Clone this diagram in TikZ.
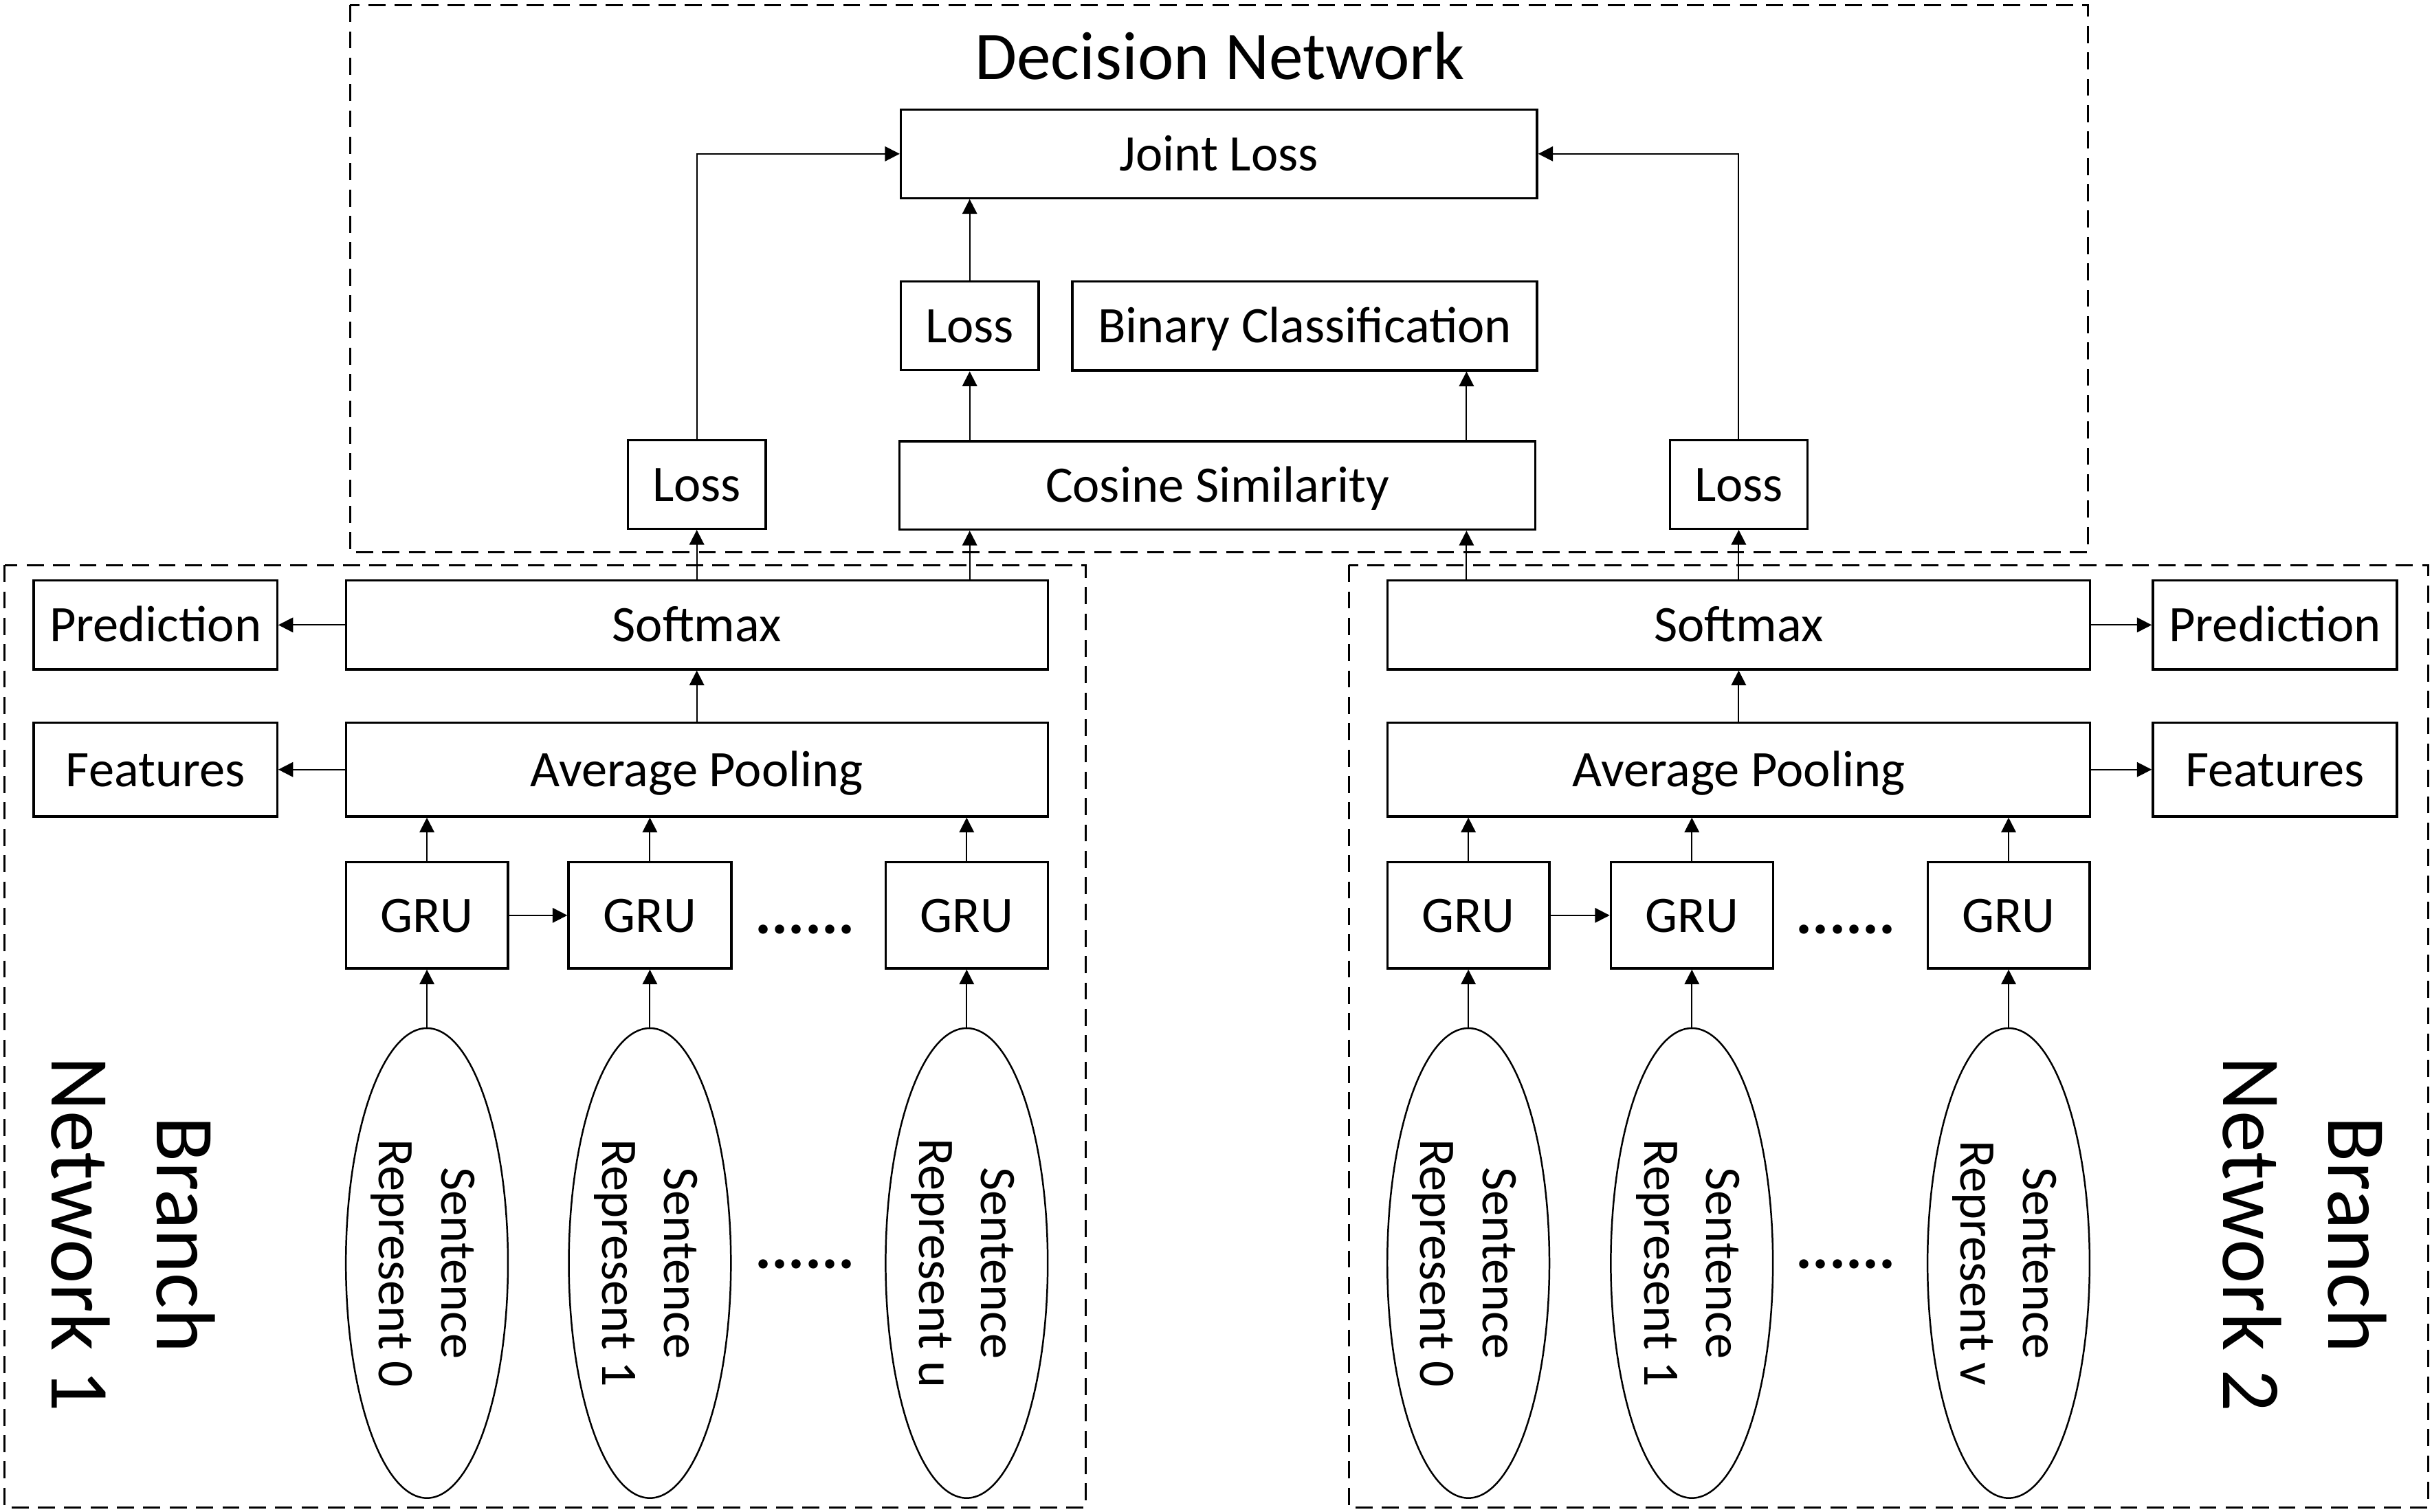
\documentclass[tikz,border=0pt]{standalone}
\usepackage{fontspec}
\setmainfont{Carlito}
\usetikzlibrary{arrows.meta,shapes.geometric,calc}
\begin{document}
\begin{tikzpicture}[x=1pt,y=-1pt,
  box/.style={draw,line width=1.45pt,inner sep=0pt,font=\fontsize{33}{40}\selectfont,text height=21.5pt,text depth=0pt},
  arr/.style={line width=0.9pt,-{Triangle[length=9.5pt,width=9.5pt]}},
  dbox/.style={draw,line width=1.35pt,dash pattern=on 11pt off 6pt},
  ell/.style={draw,ellipse,line width=1.1pt,inner sep=0pt,minimum width=104.5pt,minimum height=303pt},
  etext/.style={rotate=-90,align=center,font=\fontsize{33}{40}\selectfont,text depth=0pt,inner sep=0pt},
  blabel/.style={rotate=-90,align=center,font=\fontsize{54}{68}\selectfont,text depth=0pt,inner sep=0pt},
  dotsty/.style={font=\fontsize{40}{42}\selectfont\bfseries,anchor=base,inner sep=0pt}
]
\useasboundingbox (0,0) rectangle (1568,975);
\fill[white] (0,0) rectangle (1568,975);

% frames
\draw[dbox] (225.6,3.2) rectangle (1346,356.3);
\draw[dbox] (3,364.4) rectangle (700,972);
\draw[dbox] (869.6,364.4) rectangle (1565.5,972);

% decision network
\node[font=\fontsize{44}{50}\selectfont,anchor=base,inner sep=0pt] (title) at (786.4,51) {Decision Network};
\node[box,minimum width=410.2pt,minimum height=57pt] (joint) at (785.9,99.2) {Joint Loss};
\node[box,minimum width=88.8pt,minimum height=57.3pt] (lossC) at (625.2,210.1) {Loss};
\node[box,minimum width=299.6pt,minimum height=57.5pt] (bin) at (841.2,210.1) {Binary Classification};
\node[box,minimum width=410pt,minimum height=57pt] (cos) at (785,313) {Cosine Similarity};
\node[box,minimum width=89pt,minimum height=57pt] (lossL) at (449.25,312.5) {Loss};
\node[box,minimum width=88.6pt,minimum height=57pt] (lossR) at (1121,312.5) {Loss};
\coordinate (xr) at (945.5,0);

% branch 1
\node[box,minimum width=157pt,minimum height=57.3pt] (predL) at (100.2,403) {Prediction};
\node[box,minimum width=452.5pt,minimum height=57.3pt] (smL) at (449.25,403) {Softmax};
\node[box,minimum width=157pt,minimum height=60.5pt] (featL) at (100.2,496.25) {Features};
\node[box,minimum width=452.5pt,minimum height=60.5pt] (avgL) at (449.25,496.25) {Average Pooling};
\node[box,minimum width=104.5pt,minimum height=68.5pt] (gL1) at (275.25,590.25) {GRU};
\node[box,minimum width=105pt,minimum height=68.5pt] (gL2) at (419,590.25) {GRU};
\node[box,minimum width=104.5pt,minimum height=68.5pt] (gL3) at (623.25,590.25) {GRU};
\node[dotsty] (dL1) at (519,602) {......};
\node[ell] (eL1) at (275.25,814.5) {};
\node[ell] (eL2) at (419,814.5) {};
\node[ell] (eL3) at (623.25,814.5) {};
\node[etext] (tL1) at (eL1) {Sentence\\Represent 0};
\node[etext] (tL2) at (eL2) {Sentence\\Represent 1};
\node[etext] (tL3) at (eL3) {Sentence\\Represent u};
\node[dotsty] (dL2) at (519,818) {......};
\node[blabel] (bL) at (86,796) {Branch\\Network 1};

% branch 2
\node[box,minimum width=453pt,minimum height=57.3pt] (smR) at (1121,403) {Softmax};
\node[box,minimum width=157.4pt,minimum height=57.3pt] (predR) at (1466.7,403) {Prediction};
\node[box,minimum width=453pt,minimum height=60.5pt] (avgR) at (1121,496.25) {Average Pooling};
\node[box,minimum width=157.4pt,minimum height=60.5pt] (featR) at (1466.7,496.25) {Features};
\node[box,minimum width=104.5pt,minimum height=68.5pt] (gR1) at (946.7,590.25) {GRU};
\node[box,minimum width=104.5pt,minimum height=68.5pt] (gR2) at (1090.8,590.25) {GRU};
\node[box,minimum width=104.5pt,minimum height=68.5pt] (gR3) at (1295,590.25) {GRU};
\node[dotsty] (dR1) at (1190,602) {......};
\node[ell] (eR1) at (946.7,814.5) {};
\node[ell] (eR2) at (1090.8,814.5) {};
\node[ell] (eR3) at (1295,814.5) {};
\node[etext] (tR1) at (eR1) {Sentence\\Represent 0};
\node[etext] (tR2) at (eR2) {Sentence\\Represent 1};
\node[etext] (tR3) at (eR3) {Sentence\\Represent v};
\node[dotsty] (dR2) at (1190,818) {......};
\node[blabel] (bR) at (1486,796) {Branch\\Network 2};

% decision connectors
\draw[arr] (lossL) |- (joint);
\draw[arr] (lossR) |- (joint);
\draw[arr] (lossC.north) -- (lossC.north |- joint.south);
\draw[arr] (cos.north -| lossC) -- (lossC.south);
\draw[arr] (cos.north -| xr) -- (bin.south -| xr);
\draw[arr] (smL.north) -- (lossL.south);
\draw[arr] (smL.north -| lossC) -- (cos.south -| lossC);
\draw[arr] (smR.north -| xr) -- (cos.south -| xr);
\draw[arr] (smR.north) -- (lossR.south);

% branch 1 connectors
\draw[arr] (smL.west) -- (predL.east);
\draw[arr] (avgL.west) -- (featL.east);
\draw[arr] (avgL.north) -- (smL.south);
\draw[arr] (gL1.east) -- (gL2.west);
\foreach \i in {1,2,3}{
  \draw[arr] (gL\i.north) -- (gL\i.north |- avgL.south);
  \draw[arr] (eL\i.north) -- (gL\i.south);
}

% branch 2 connectors
\draw[arr] (smR.east) -- (predR.west);
\draw[arr] (avgR.east) -- (featR.west);
\draw[arr] (avgR.north) -- (smR.south);
\draw[arr] (gR1.east) -- (gR2.west);
\foreach \i in {1,2,3}{
  \draw[arr] (gR\i.north) -- (gR\i.north |- avgR.south);
  \draw[arr] (eR\i.north) -- (gR\i.south);
}
\end{tikzpicture}
\end{document}
